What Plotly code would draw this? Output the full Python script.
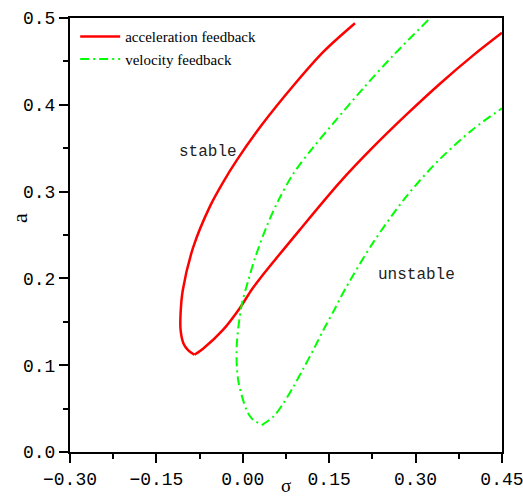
import plotly.graph_objects as go

# Acceleration feedback boundary: upper branch (top -> cusp) and lower branch (cusp -> right edge)
accel_upper_sigma = [0.1948, 0.1398, 0.0877, 0.0328, -0.0106, -0.034, -0.057,
                     -0.086, -0.104, -0.108, -0.108, -0.103, -0.0946, -0.084]
accel_upper_a = [0.494, 0.461, 0.422, 0.3767, 0.336, 0.311, 0.283,
                 0.236, 0.187, 0.160, 0.1406, 0.125, 0.117, 0.112]
accel_lower_sigma = [-0.084, -0.069, -0.034, -0.005, 0.0154, 0.030, 0.099,
                     0.1688, 0.2266, 0.2845, 0.3424, 0.400, 0.45]
accel_lower_a = [0.112, 0.119, 0.141, 0.166, 0.187, 0.200, 0.256,
                 0.311, 0.3515, 0.389, 0.4244, 0.457, 0.483]

# Velocity feedback boundary: upper branch (top -> minimum) and lower branch (minimum -> right edge)
vel_upper_sigma = [0.322, 0.2613, 0.209, 0.157, 0.121, 0.088, 0.062, 0.0415,
                   0.022, 0.0097, -0.002, -0.0106, -0.008, 0.0068, 0.0154, 0.033]
vel_upper_a = [0.4977, 0.457, 0.419, 0.3786, 0.350, 0.321, 0.290, 0.260,
               0.225, 0.198, 0.169, 0.121, 0.083, 0.048, 0.0388, 0.031]
vel_lower_sigma = [0.033, 0.053, 0.0703, 0.0877, 0.105, 0.1224, 0.140, 0.159,
                   0.178, 0.2266, 0.2845, 0.3424, 0.400, 0.45]
vel_lower_a = [0.031, 0.0407, 0.056, 0.075, 0.096, 0.1175, 0.1406, 0.164,
               0.188, 0.2415, 0.2948, 0.3376, 0.372, 0.396]

x_ticks = [-0.30, -0.15, 0.00, 0.15, 0.30, 0.45]
x_tick_text = ["\u22120.30", "\u22120.15", "0.00", "0.15", "0.30", "0.45"]
y_ticks = [0.0, 0.1, 0.2, 0.3, 0.4, 0.5]
y_tick_text = ["0.0", "0.1", "0.2", "0.3", "0.4", "0.5"]

TICK_FONT = dict(family="Liberation Mono", size=18, color="black")
SERIF = "Liberation Serif"

accel_line = dict(color="#ff0000", width=2.5, shape="spline", smoothing=0.9)
vel_line = dict(color="#00ff00", width=2, dash="9px,4px,2px,4px",
                shape="spline", smoothing=0.9)

fig = go.Figure()
fig.add_trace(go.Scatter(
    x=accel_upper_sigma, y=accel_upper_a, mode="lines",
    name="acceleration feedback", legendgroup="accel", line=accel_line))
fig.add_trace(go.Scatter(
    x=accel_lower_sigma, y=accel_lower_a, mode="lines",
    name="acceleration feedback", legendgroup="accel", showlegend=False,
    line=accel_line))
fig.add_trace(go.Scatter(
    x=vel_upper_sigma, y=vel_upper_a, mode="lines",
    name="velocity feedback", legendgroup="vel", line=vel_line))
fig.add_trace(go.Scatter(
    x=vel_lower_sigma, y=vel_lower_a, mode="lines",
    name="velocity feedback", legendgroup="vel", showlegend=False,
    line=vel_line))

axis_common = dict(
    showline=True, linewidth=2, linecolor="black", mirror=True,
    ticks="outside", ticklen=9, tickwidth=2, tickcolor="black",
    showgrid=False, zeroline=False, tickfont=TICK_FONT,
    ticklabeloverflow="allow", automargin=False,
)
fig.update_xaxes(range=[-0.30, 0.4501], tickvals=x_ticks, ticktext=x_tick_text,
                 minor=dict(ticks="outside", ticklen=5, tickwidth=2,
                            tickcolor="black", dtick=0.075, tick0=-0.30),
                 **axis_common)
fig.update_yaxes(range=[0, 0.5001], tickvals=y_ticks, ticktext=y_tick_text,
                 minor=dict(ticks="outside", ticklen=5, tickwidth=2,
                            tickcolor="black", dtick=0.05, tick0=0),
                 **axis_common)

region_font = dict(family="Liberation Mono", size=16, color="#222222")
fig.add_annotation(x=-0.0604, y=0.3456, text="stable", showarrow=False,
                   font=region_font)
fig.add_annotation(x=0.302, y=0.204, text="unstable", showarrow=False,
                   font=region_font)
fig.add_annotation(x=0.5, y=0, xref="paper", yref="paper", text="σ",
                   showarrow=False, yanchor="top", yshift=-21,
                   font=dict(family=SERIF, size=19, color="black"))
fig.add_annotation(x=0, y=0.539, xref="paper", yref="paper", text="a",
                   showarrow=False, xanchor="center", xshift=-51, textangle=-90,
                   font=dict(family=SERIF, size=22, color="black"))

fig.update_layout(
    width=523, height=497,
    margin=dict(l=70, r=21, t=18, b=45, autoexpand=False),
    paper_bgcolor="white", plot_bgcolor="white",
    showlegend=True,
    legend=dict(x=0.012, y=0.995, xanchor="left", yanchor="top",
                bgcolor="rgba(0,0,0,0)", borderwidth=0,
                font=dict(family=SERIF, size=15, color="black"),
                itemwidth=40, tracegroupgap=0),
)

fig.write_html("out.html")
